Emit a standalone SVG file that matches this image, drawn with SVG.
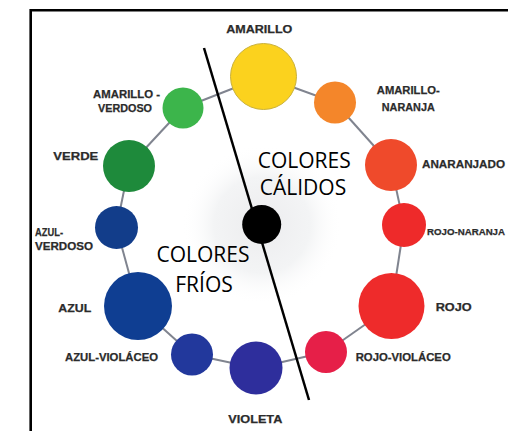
<svg xmlns="http://www.w3.org/2000/svg" width="508" height="431" viewBox="0 0 508 431">
  <defs>
    <radialGradient id="glow" cx="0.5" cy="0.5" r="0.5">
      <stop offset="0" stop-color="#ececee"/>
      <stop offset="0.6" stop-color="#f3f4f5"/>
      <stop offset="1" stop-color="#ffffff" stop-opacity="0"/>
    </radialGradient>
  </defs>
  <style>
    .lbl { font-family: "Liberation Sans", Arial, sans-serif; font-weight: bold; font-size: 11.5px; fill: #2b2b2b; stroke: #2b2b2b; stroke-width: 0.25; }
    .lbl.sm { font-size: 9.9px; }
    .big { font-family: "Open Sans", "Liberation Sans", sans-serif; font-size: 21px; fill: #000000; text-anchor: middle; }
    .mid { text-anchor: middle; }
    .conn line { stroke: #80848f; stroke-width: 2; }
    .frame { fill: none; stroke: #000000; stroke-width: 2.6; }
  </style>
  <rect width="508" height="431" fill="#ffffff"/>
  <circle cx="262" cy="225" r="80" fill="url(#glow)"/>
  <path class="frame" d="M30.7,431 V10.3 H508"/>

  <g id="connectors" class="conn">
    <line x1="263.5" y1="76.5" x2="335" y2="102.5"/>
    <line x1="335" y1="102.5" x2="391" y2="165"/>
    <line x1="391" y1="165" x2="404" y2="225"/>
    <line x1="404" y1="225" x2="391.5" y2="306"/>
    <line x1="391.5" y1="306" x2="326" y2="352"/>
    <line x1="326" y1="352" x2="256" y2="368"/>
    <line x1="256" y1="368" x2="192" y2="354.5"/>
    <line x1="192" y1="354.5" x2="138" y2="306"/>
    <line x1="138" y1="306" x2="116.5" y2="227.5"/>
    <line x1="116.5" y1="227.5" x2="129" y2="166"/>
    <line x1="129" y1="166" x2="183" y2="108"/>
    <line x1="183" y1="108" x2="263.5" y2="76.5"/>
  </g>

  <g id="amarillo">
    <circle cx="263.5" cy="76.5" r="33" fill="#fbd21e" stroke="#c9b13c" stroke-width="1"/>
    <text class="lbl mid" x="259.3" y="33" textLength="66" lengthAdjust="spacingAndGlyphs">AMARILLO</text>
  </g>
  <g id="amarillo-naranja">
    <circle cx="335" cy="102.5" r="21" fill="#f4862a"/>
    <text class="lbl mid" x="408.3" y="93.5" textLength="63" lengthAdjust="spacingAndGlyphs">AMARILLO-</text>
    <text class="lbl mid" x="408.3" y="111" textLength="53" lengthAdjust="spacingAndGlyphs">NARANJA</text>
  </g>
  <g id="anaranjado">
    <circle cx="391" cy="165" r="26" fill="#ef4a2b"/>
    <text class="lbl" x="422" y="168" textLength="83" lengthAdjust="spacingAndGlyphs">ANARANJADO</text>
  </g>
  <g id="rojo-naranja">
    <circle cx="404" cy="225" r="22" fill="#ee2a2a"/>
    <text class="lbl sm" x="427" y="234.5" textLength="78" lengthAdjust="spacingAndGlyphs">ROJO-NARANJA</text>
  </g>
  <g id="rojo">
    <circle cx="391.5" cy="306" r="33" fill="#ee2b2b"/>
    <text class="lbl" x="435.7" y="311" textLength="36" lengthAdjust="spacingAndGlyphs">ROJO</text>
  </g>
  <g id="rojo-violaceo">
    <circle cx="326" cy="352" r="21" fill="#e61f48"/>
    <text class="lbl" x="355.7" y="361" textLength="95" lengthAdjust="spacingAndGlyphs">ROJO-VIOLÁCEO</text>
  </g>
  <g id="violeta">
    <circle cx="256" cy="368" r="26.5" fill="#2e2e9c"/>
    <text class="lbl" x="228.3" y="423" textLength="54" lengthAdjust="spacingAndGlyphs">VIOLETA</text>
  </g>
  <g id="azul-violaceo">
    <circle cx="192" cy="354.5" r="21" fill="#22389c"/>
    <text class="lbl" x="65" y="361" textLength="93" lengthAdjust="spacingAndGlyphs">AZUL-VIOLÁCEO</text>
  </g>
  <g id="azul">
    <circle cx="138" cy="306" r="34" fill="#0f3e92"/>
    <text class="lbl" x="58.3" y="312" textLength="33" lengthAdjust="spacingAndGlyphs">AZUL</text>
  </g>
  <g id="azul-verdoso">
    <circle cx="116.5" cy="227.5" r="21.5" fill="#123d8a"/>
    <text class="lbl" x="35" y="236" textLength="28" lengthAdjust="spacingAndGlyphs">AZUL-</text>
    <text class="lbl" x="35" y="250" textLength="58" lengthAdjust="spacingAndGlyphs">VERDOSO</text>
  </g>
  <g id="verde">
    <circle cx="129" cy="166" r="26" fill="#1e8a3b"/>
    <text class="lbl mid" x="75.8" y="160" textLength="45" lengthAdjust="spacingAndGlyphs">VERDE</text>
  </g>
  <g id="amarillo-verdoso">
    <circle cx="183" cy="108" r="20.5" fill="#3cb54b"/>
    <text class="lbl mid" x="126.5" y="98" textLength="67" lengthAdjust="spacingAndGlyphs">AMARILLO -</text>
    <text class="lbl mid" x="125" y="112" textLength="54" lengthAdjust="spacingAndGlyphs">VERDOSO</text>
  </g>
  <g id="centro">
    <circle cx="261.7" cy="224.5" r="19.5" fill="#000000"/>
  </g>

  <g id="divisor">
    <line x1="204" y1="48" x2="309" y2="400" stroke="#000000" stroke-width="2.5"/>
  </g>

  <g id="calidos">
    <text class="big" x="304.2" y="168">COLORES</text>
    <text class="big" x="303" y="195">CÁLIDOS</text>
  </g>
  <g id="frios">
    <text class="big" x="203" y="262">COLORES</text>
    <text class="big" x="204" y="292">FRÍOS</text>
  </g>
</svg>
